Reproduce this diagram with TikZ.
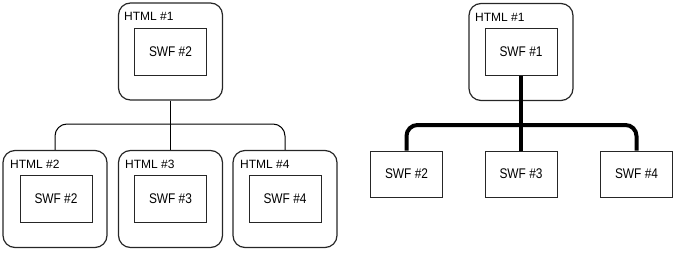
\documentclass[tikz,border=0pt]{standalone}
\usepackage{fontspec}
\setmainfont{Liberation Sans}
\newfontfamily\swffont{Liberation Sans}[FakeStretch=0.85]
\begin{document}
\begin{tikzpicture}[x=1pt,y=-1pt,
  outerbox/.style={draw=black!85, line width=1.2pt, rounded corners=12pt, minimum width=104pt, minimum height=97pt, inner sep=0pt},
  innerbox/.style={draw=black!85, line width=1pt, minimum width=72pt, minimum height=47pt, inner sep=0pt, font=\swffont\fontsize{14}{16}\selectfont},
  lbl/.style={anchor=base west, inner sep=0pt, font=\fontsize{12}{14}\selectfont},
  thin/.style={draw=black, line width=1pt},
  thick/.style={draw=black, line width=4pt}]
\useasboundingbox (0,0) rectangle (675,252);
% ---------- left diagram ----------
\node[outerbox] (h1) at (170.5,51.5) {};
\node[lbl] (h1l) at (124,20.5) {HTML \#1};
\node[innerbox] (s1) at (170.5,52) {SWF \#2};
\node[outerbox] (h2) at (55,199) {};
\node[lbl] (h2l) at (10,168.5) {HTML \#2};
\node[innerbox] (s2) at (56,199) {SWF \#2};
\node[outerbox] (h3) at (170.5,199) {};
\node[lbl] (h3l) at (125,168.5) {HTML \#3};
\node[innerbox] (s3) at (170.5,199) {SWF \#3};
\node[outerbox] (h4) at (285,199) {};
\node[lbl] (h4l) at (240,168.5) {HTML \#4};
\node[innerbox] (s4) at (285,199) {SWF \#4};
\coordinate (busL) at (170.5,124);
\draw[thin] (h1.south) -- (h3.north);
\draw[thin, rounded corners=12pt] (h2.north) |- (busL) -| (h4.north);
% ---------- right diagram ----------
\node[outerbox] (r1) at (521,52) {};
\node[lbl] (r1l) at (475,21) {HTML \#1};
\node[innerbox] (t1) at (521,52) {SWF \#1};
\node[innerbox, minimum height=46pt] (t2) at (406.5,174) {SWF \#2};
\node[innerbox, minimum height=46pt] (t3) at (521,174) {SWF \#3};
\node[innerbox, minimum height=46pt] (t4) at (636.5,174) {SWF \#4};
\coordinate (busR) at (521,125);
\draw[thick] (t1.south) -- (t3.north);
\draw[thick, rounded corners=11pt] (t2.north) |- (busR) -| (t4.north);
\end{tikzpicture}
\end{document}
